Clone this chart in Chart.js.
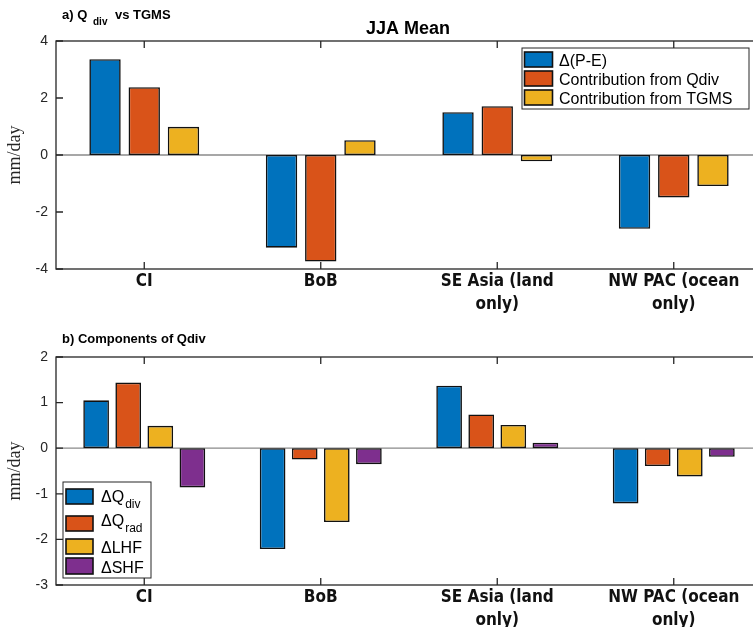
<!DOCTYPE html>
<html>
<head>
<meta charset="utf-8">
<script src="https://cdn.jsdelivr.net/npm/chart.js@4"></script>
<style>
  html, body { margin: 0; padding: 0; background: #fff; width: 753px; height: 627px; overflow: hidden; }
  canvas { position: absolute; left: 0; }
  #topChart { top: 0; }
  #bottomChart { top: 316px; }
</style>
</head>
<body>
<canvas id="topChart" width="780" height="330"></canvas>
<canvas id="bottomChart" width="780" height="311"></canvas>
<script>
// regions on the x axis
const regions = [["CI"], ["BoB"], ["SE Asia (land", "only)"], ["NW PAC (ocean", "only)"]];

// a) Qdiv vs TGMS (mm/day)
const deltaPE = [3.36, -3.25, 1.50, -2.59];
const fromQdiv = [2.38, -3.74, 1.71, -1.49];
const fromTGMS = [0.99, 0.52, -0.22, -1.09];

// b) components of Qdiv (mm/day)
const dQdiv = [1.05, -2.21, 1.37, -1.21];
const dQrad = [1.44, -0.25, 0.74, -0.39];
const dLHF = [0.49, -1.62, 0.51, -0.62];
const dSHF = [-0.86, -0.35, 0.12, -0.19];

const topTicks = [-4, -2, 0, 2, 4];
const bottomTicks = [-3, -2, -1, 0, 1, 2];

const blue = "#0072BD", orange = "#D95319", yellow = "#EDB120", purple = "#7E2F8E";
const axisCol = "#262626";
const SANS = "'Liberation Sans', Arial, sans-serif";
const NARROW = "'DejaVu Sans Condensed', 'Liberation Sans', sans-serif";

function bars(label, data, color) {
  return {
    label, data,
    backgroundColor: color,
    borderColor: "#111",
    borderWidth: 1.6,
    borderSkipped: false
  };
}

// baseline, box and inward ticks like the original figure
const frame = {
  id: "frame",
  beforeDatasetsDraw(chart) {
    const { ctx, chartArea: a, scales: { y } } = chart;
    const y0 = y.getPixelForValue(0);
    ctx.save();
    ctx.strokeStyle = "#8a8a8a";
    ctx.lineWidth = 1.3;
    ctx.beginPath();
    ctx.moveTo(a.left, y0);
    ctx.lineTo(a.right, y0);
    ctx.stroke();
    ctx.restore();
  },
  afterDatasetsDraw(chart) {
    const { ctx, chartArea: a, scales: { x, y } } = chart;
    ctx.save();
    ctx.strokeStyle = axisCol;
    ctx.lineWidth = 1.3;
    ctx.strokeRect(a.left, a.top, a.right - a.left, a.bottom - a.top);
    ctx.beginPath();
    y.ticks.forEach(t => {
      const py = y.getPixelForValue(t.value);
      ctx.moveTo(a.left, py); ctx.lineTo(a.left + 7, py);
      ctx.moveTo(a.right, py); ctx.lineTo(a.right - 7, py);
    });
    regions.forEach((r, i) => {
      const px = x.getPixelForValue(i);
      ctx.moveTo(px, a.bottom); ctx.lineTo(px, a.bottom - 7);
      ctx.moveTo(px, a.top); ctx.lineTo(px, a.top + 7);
    });
    ctx.stroke();
    ctx.restore();
  }
};

function drawLegendBox(ctx, box, rows) {
  ctx.save();
  ctx.fillStyle = "#fff";
  ctx.fillRect(box[0], box[1], box[2], box[3]);
  ctx.strokeStyle = axisCol;
  ctx.lineWidth = 1;
  ctx.strokeRect(box[0], box[1], box[2], box[3]);
  rows.forEach(r => {
    ctx.fillStyle = r.color;
    ctx.fillRect(r.sx, r.sy, r.sw, r.sh);
    ctx.strokeStyle = "#111";
    ctx.lineWidth = 1.6;
    ctx.strokeRect(r.sx, r.sy, r.sw, r.sh);
    ctx.fillStyle = "#000";
    ctx.textBaseline = "alphabetic";
    ctx.textAlign = "left";
    ctx.font = r.font;
    ctx.fillText(r.text, r.tx, r.ty);
    if (r.sub) {
      const w = ctx.measureText(r.text).width;
      ctx.font = r.subFont;
      ctx.fillText(r.sub, r.tx + w + 1, r.ty + 6);
    }
  });
  ctx.restore();
}

const topDecor = {
  id: "topDecor",
  afterDraw(chart) {
    const ctx = chart.ctx;
    ctx.save();
    ctx.fillStyle = "#000";
    ctx.textAlign = "center";
    ctx.textBaseline = "alphabetic";
    ctx.font = "bold 18px " + SANS;
    ctx.fillText("JJA Mean", 408, 34);
    ctx.textAlign = "left";
    ctx.font = "bold 13px " + SANS;
    ctx.fillText("a) Q", 62, 19);
    ctx.font = "bold 10px " + SANS;
    ctx.fillText("div", 93, 25);
    ctx.font = "bold 13px " + SANS;
    ctx.fillText("vs TGMS", 115, 19);
    ctx.restore();
    const f = "16px " + SANS;
    drawLegendBox(ctx, [522, 48, 227, 61], [
      { color: blue, sx: 524.5, sy: 52, sw: 28, sh: 15, text: "\u0394(P-E)", tx: 559, ty: 66, font: f },
      { color: orange, sx: 524.5, sy: 71, sw: 28, sh: 15, text: "Contribution from Qdiv", tx: 559, ty: 85, font: f },
      { color: yellow, sx: 524.5, sy: 90, sw: 28, sh: 15, text: "Contribution from TGMS", tx: 559, ty: 103.5, font: f }
    ]);
  }
};

const bottomDecor = {
  id: "bottomDecor",
  afterDraw(chart) {
    const ctx = chart.ctx;
    ctx.save();
    ctx.fillStyle = "#000";
    ctx.textAlign = "left";
    ctx.textBaseline = "alphabetic";
    ctx.font = "bold 13px " + SANS;
    ctx.fillText("b) Components of Qdiv", 62, 26.7);
    ctx.restore();
    const f = "16px " + SANS, sf = "12px " + SANS;
    drawLegendBox(ctx, [63, 166, 88, 96], [
      { color: blue, sx: 66, sy: 173, sw: 27, sh: 15, text: "\u0394Q", sub: "div", tx: 101, ty: 185.5, font: f, subFont: sf },
      { color: orange, sx: 66, sy: 200, sw: 27, sh: 15, text: "\u0394Q", sub: "rad", tx: 101, ty: 209.5, font: f, subFont: sf },
      { color: yellow, sx: 66, sy: 223, sw: 27, sh: 15, text: "\u0394LHF", tx: 101, ty: 237, font: f },
      { color: purple, sx: 66, sy: 242, sw: 27, sh: 16, text: "\u0394SHF", tx: 101, ty: 256.5, font: f }
    ]);
  }
};

function makeOptions(yTicks, xHeight, groupWidth) {
  return {
    responsive: false,
    animation: false,
    layout: { padding: { top: 41, right: 18, left: 0, bottom: 0 } },
    datasets: { bar: { categoryPercentage: groupWidth, barPercentage: 0.8 } },
    plugins: { legend: { display: false }, tooltip: { enabled: false } },
    scales: {
      x: {
        type: "category",
        offset: true,
        grid: { display: false, drawTicks: false },
        border: { display: false },
        ticks: {
          autoSkip: false, maxRotation: 0, padding: 2,
          color: "#111",
          font: { family: NARROW, size: 17, weight: "bold", lineHeight: 1.3 }
        },
        afterFit(s) { s.height = xHeight; }
      },
      y: {
        min: yTicks[0], max: yTicks[yTicks.length - 1],
        afterBuildTicks(s) { s.ticks = yTicks.map(v => ({ value: v })); },
        grid: { display: false, drawTicks: false },
        border: { display: false },
        ticks: {
          padding: 8, color: axisCol,
          font: { family: SANS, size: 14 }
        },
        title: {
          display: true, text: "mm/day", color: axisCol,
          font: { family: "'Liberation Serif', 'DejaVu Serif', serif", size: 18 },
          padding: { top: 4, bottom: 0 }
        },
        afterFit(s) { s.width = 56; }
      }
    }
  };
}

new Chart(document.getElementById("topChart"), {
  type: "bar",
  data: {
    labels: regions,
    datasets: [
      bars("\u0394(P-E)", deltaPE, blue),
      bars("Contribution from Qdiv", fromQdiv, orange),
      bars("Contribution from TGMS", fromTGMS, yellow)
    ]
  },
  options: makeOptions(topTicks, 61, 3 / 4.5),
  plugins: [frame, topDecor]
});

new Chart(document.getElementById("bottomChart"), {
  type: "bar",
  data: {
    labels: regions,
    datasets: [
      bars("\u0394Qdiv", dQdiv, blue),
      bars("\u0394Qrad", dQrad, orange),
      bars("\u0394LHF", dLHF, yellow),
      bars("\u0394SHF", dSHF, purple)
    ]
  },
  options: makeOptions(bottomTicks, 42, 4 / 5.5),
  plugins: [frame, bottomDecor]
});
</script>
</body>
</html>
